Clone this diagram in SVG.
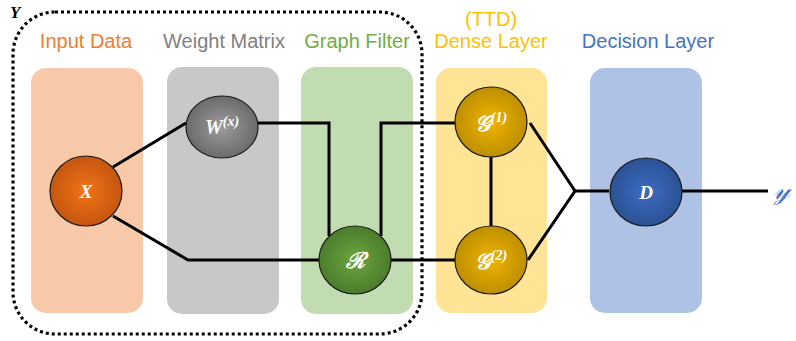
<svg xmlns="http://www.w3.org/2000/svg" width="796" height="341" viewBox="0 0 796 341">
<defs>
<radialGradient id="gX" cx="50%" cy="50%" r="50%"><stop offset="0" stop-color="#F27418"/><stop offset="1" stop-color="#C4560F"/></radialGradient>
<radialGradient id="gW" cx="50%" cy="50%" r="50%"><stop offset="0" stop-color="#9C9C9C"/><stop offset="1" stop-color="#6B6B6B"/></radialGradient>
<radialGradient id="gR" cx="50%" cy="50%" r="50%"><stop offset="0" stop-color="#6DA53F"/><stop offset="1" stop-color="#4B7C2C"/></radialGradient>
<radialGradient id="gG" cx="50%" cy="50%" r="50%"><stop offset="0" stop-color="#F0B400"/><stop offset="1" stop-color="#BE8F00"/></radialGradient>
<radialGradient id="gD" cx="50%" cy="50%" r="50%"><stop offset="0" stop-color="#3B6BC2"/><stop offset="1" stop-color="#2C5295"/></radialGradient>
</defs>
<style>
.panel{stroke:none}
.node{stroke:#1a1a1a;stroke-width:1.2}
.lbl{font-family:"Liberation Sans",Arial,sans-serif;font-size:20px;text-anchor:middle}
.nt{font-family:"Liberation Serif","DejaVu Serif",serif;font-weight:bold;font-style:italic;fill:#fff;text-anchor:middle}
.wire{fill:none;stroke:#000;stroke-width:3}
</style>
<rect x="13" y="12" width="409" height="322" rx="42" ry="42" fill="none" stroke="#000" stroke-width="3.2" stroke-dasharray="3 3"/>
<text x="10" y="18" font-family="Liberation Serif,serif" font-weight="bold" font-style="italic" font-size="17">Y</text>

<g id="panel-input"><rect class="panel" x="31" y="68" width="112" height="245" rx="15" fill="#F8C9A8"/><text class="lbl" x="86" y="48" fill="#ED7D31">Input Data</text></g>
<g id="panel-weight"><rect class="panel" x="167" y="67" width="112" height="247" rx="15" fill="#C8C8C8"/><text class="lbl" x="224" y="48" fill="#7F7F7F">Weight Matrix</text></g>
<g id="panel-filter"><rect class="panel" x="301" y="67" width="112" height="247" rx="15" fill="#C1DCB0"/><text class="lbl" x="357" y="48" fill="#70AD47">Graph Filter</text></g>
<g id="panel-dense"><rect class="panel" x="436" y="68" width="111" height="245" rx="15" fill="#FFE496"/><text class="lbl" x="491" y="26" fill="#FFC000">(TTD)</text><text class="lbl" x="491" y="48" fill="#FFC000">Dense Layer</text></g>
<g id="panel-decision"><rect class="panel" x="590" y="68" width="112" height="245" rx="15" fill="#ADC2E4"/><text class="lbl" x="648" y="48" fill="#4472C4">Decision Layer</text></g>

<g id="connectors">
<path class="wire" d="M113 167 L186 123"/>
<path class="wire" d="M113 216 L188 260 L320 260"/>
<path class="wire" d="M258 123 L329 123 L329 236"/>
<path class="wire" d="M381 236 L381 123 L455 123"/>
<path class="wire" d="M391 260 L455 260"/>
<path class="wire" d="M491 157 L491 226"/>
<path class="wire" d="M530 123 L575 191 L528 260"/>
<path class="wire" d="M575 191 L609 191"/>
<path class="wire" d="M682 191 L768 191"/>
</g>

<g id="node-X"><ellipse class="node" cx="86" cy="191" rx="36" ry="35" fill="url(#gX)"/><text class="nt" x="86" y="198" font-size="19">X</text></g>
<g id="node-W"><ellipse class="node" cx="222" cy="127" rx="36" ry="31" fill="url(#gW)"/><text class="nt" x="222" y="134" font-size="20">W<tspan font-size="14" dy="-8">(x)</tspan></text></g>
<g id="node-R"><ellipse class="node" cx="355" cy="260" rx="36" ry="34" fill="url(#gR)"/><text class="nt" x="355" y="268" font-size="22">ℛ</text></g>
<g id="node-G1"><ellipse class="node" cx="491" cy="122" rx="36" ry="35" fill="url(#gG)"/><text class="nt" x="491" y="131" font-size="22">𝒢<tspan font-size="14" dy="-9">(1)</tspan></text></g>
<g id="node-G2"><ellipse class="node" cx="491" cy="260" rx="36" ry="34" fill="url(#gG)"/><text class="nt" x="491" y="269" font-size="22">𝒢<tspan font-size="14" dy="-9">(2)</tspan></text></g>
<g id="node-D"><ellipse class="node" cx="646" cy="192" rx="36" ry="34" fill="url(#gD)"/><text class="nt" x="646" y="199" font-size="19">D</text></g>
<text x="782" y="199" font-family="Liberation Serif,serif" font-style="italic" font-size="28" fill="#4472C4" text-anchor="middle">𝓎</text>
</svg>
